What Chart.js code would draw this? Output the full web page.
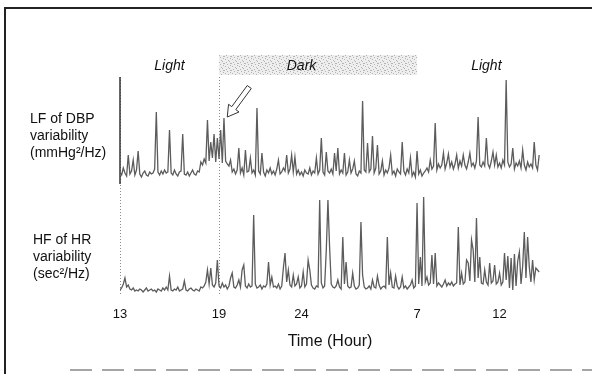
<!DOCTYPE html>
<html>
<head>
<meta charset="utf-8">
<script src="https://cdn.jsdelivr.net/npm/chart.js@4.4.1/dist/chart.umd.min.js"></script>
<style>
html, body { margin: 0; padding: 0; background: #fff; }
canvas { display: block; }
</style>
</head>
<body>
<canvas id="chart" width="592" height="374"></canvas>
<script>
// both traces are sampled every 0.1 h from 13:00
var startHour = 13;
var stepHour = 0.1;

// LF of DBP variability (arbitrary units)
var lfDbp = [
	20, 17, 24, 19, 16, 37, 18, 21, 32, 17,
	22, 41, 18, 15, 19, 21, 17, 16, 20, 18,
	19, 23, 80, 20, 17, 21, 18, 22, 19, 20,
	62, 19, 17, 22, 18, 16, 20, 21, 58, 18,
	17, 20, 16, 19, 22, 18, 17, 21, 20, 30,
	27, 33, 29, 72, 31, 50, 34, 58, 30, 54,
	33, 62, 29, 74, 31, 28, 26, 32, 20, 23,
	18, 22, 44, 19, 24, 17, 42, 20, 21, 34,
	19, 22, 17, 84, 21, 18, 39, 20, 16, 22,
	19, 24, 18, 21, 17, 23, 32, 18, 20, 24,
	21, 37, 19, 23, 37, 20, 35, 18, 22, 17,
	20, 16, 22, 19, 18, 24, 17, 21, 19, 34,
	18, 22, 54, 20, 17, 40, 21, 19, 23, 18,
	39, 21, 44, 18, 22, 19, 39, 17, 20, 32,
	19, 23, 31, 18, 16, 21, 19, 91, 22, 20,
	49, 20, 23, 56, 19, 24, 47, 18, 21, 31,
	17, 22, 19, 24, 37, 18, 21, 16, 23, 20,
	18, 50, 21, 17, 23, 19, 34, 16, 20, 15,
	41, 18, 22, 16, 19, 21, 24, 20, 32, 23,
	26, 69, 22, 28, 24, 27, 39, 23, 29, 38,
	25, 30, 23, 28, 37, 24, 31, 26, 37, 27,
	23, 30, 39, 26, 29, 24, 31, 75, 27, 25,
	30, 26, 54, 28, 24, 31, 40, 27, 37, 25,
	29, 24, 32, 27, 112, 30, 25, 28, 44, 23,
	29, 26, 31, 24, 42, 27, 22, 30, 25, 28,
	24, 50, 27, 22, 37
];

// HF of HR variability (arbitrary units)
var hfHr = [
	6, 8, 12, 18, 9, 11, 7, 6, 8, 5,
	6, 5, 7, 6, 4, 6, 8, 5, 6, 7,
	5, 6, 4, 7, 6, 5, 8, 6, 9, 6,
	20, 6, 5, 7, 6, 9, 5, 6, 7, 15,
	6, 5, 7, 8, 6, 5, 7, 6, 5, 9,
	8, 10, 14, 26, 12, 28, 11, 9, 13, 36,
	10, 8, 13, 9, 11, 7, 10, 18, 23, 9,
	8, 11, 16, 9, 26, 31, 10, 8, 12, 9,
	10, 81, 12, 8, 9, 11, 7, 10, 9, 12,
	34, 11, 19, 9, 10, 8, 12, 7, 10, 28,
	43, 14, 26, 11, 9, 21, 10, 12, 19, 8,
	10, 24, 9, 12, 36, 26, 11, 8, 7, 10,
	9, 96, 13, 8, 10, 46, 96, 49, 12, 9,
	8, 10, 16, 9, 7, 59, 12, 34, 10, 8,
	9, 23, 10, 7, 8, 11, 74, 21, 9, 7,
	8, 10, 7, 16, 9, 8, 20, 11, 7, 9,
	10, 8, 59, 11, 23, 9, 8, 20, 10, 7,
	9, 19, 8, 10, 7, 9, 11, 16, 8, 10,
	93, 12, 39, 10, 99, 14, 19, 11, 13, 41,
	12, 43, 10, 13, 11, 9, 12, 16, 10, 13,
	11, 14, 10, 12, 13, 69, 11, 23, 12, 14,
	36, 33, 15, 56, 46, 14, 78, 18, 39, 13,
	12, 26, 14, 11, 33, 13, 15, 31, 12, 14,
	23, 11, 14, 43, 16, 40, 8, 38, 6, 42,
	10, 35, 44, 12, 30, 64, 18, 59, 29, 14,
	36, 16, 28, 26, 24
];

var tickHours = [13, 19, 24, 31, 36];
var gridHours = [13, 19];
var darkPeriod = [19, 31];
var periodLabels = ['Light', 'Dark', 'Light'];
var periodLabelHours = [16, 24, 35.2];
var topTitle = ['LF of DBP', 'variability', '(mmHg²/Hz)'];
var bottomTitle = ['HF of HR', 'variability', '(sec²/Hz)'];
var arrowAt = { hour: 19.5, value: 75 };

function toPoints(values) {
	return values.map(function (v, i) {
		return { x: startHour + i * stepHour, y: v };
	});
}

var FONT = '"Liberation Sans", Arial, Helvetica, sans-serif';
Chart.defaults.font.family = FONT;
Chart.defaults.color = '#1a1a1a';

function stipple(ctx) {
	var p = document.createElement('canvas');
	p.width = 7;
	p.height = 7;
	var c = p.getContext('2d');
	c.fillStyle = '#eeeeee';
	c.fillRect(0, 0, 7, 7);
	c.fillStyle = '#b4b4b4';
	[[0, 0], [3, 1], [6, 2], [1, 3], [4, 4], [2, 6], [5, 5], [6, 0]].forEach(function (d) {
		c.fillRect(d[0], d[1], 1, 1);
	});
	return ctx.createPattern(p, 'repeat');
}

var decorations = {
	id: 'decorations',
	beforeDatasetsDraw: function (chart) {
		var ctx = chart.ctx;
		var x = chart.scales.x;
		var area = chart.chartArea;
		ctx.save();

		// page frame of the scanned figure
		ctx.strokeStyle = '#222';
		ctx.lineWidth = 2;
		ctx.beginPath();
		ctx.moveTo(5, 374);
		ctx.lineTo(5, 8);
		ctx.lineTo(592, 8);
		ctx.stroke();
		ctx.strokeStyle = '#888';
		ctx.lineWidth = 1.5;
		ctx.setLineDash([22, 10]);
		ctx.beginPath();
		ctx.moveTo(70, 370);
		ctx.lineTo(592, 370);
		ctx.stroke();
		ctx.setLineDash([]);

		// dark period bar
		var x0 = x.getPixelForValue(darkPeriod[0]);
		var x1 = x.getPixelForValue(darkPeriod[1]);
		ctx.fillStyle = stipple(ctx);
		ctx.fillRect(x0, 55, x1 - x0, 20);

		ctx.fillStyle = '#111';
		ctx.font = 'italic 14px ' + FONT;
		ctx.textAlign = 'center';
		ctx.textBaseline = 'middle';
		periodLabels.forEach(function (t, i) {
			ctx.fillText(t, x.getPixelForValue(periodLabelHours[i]), 66);
		});

		// panel titles
		ctx.font = '14px ' + FONT;
		ctx.textAlign = 'left';
		topTitle.forEach(function (t, i) {
			ctx.fillText(t, 30, 119 + i * 17);
		});
		bottomTitle.forEach(function (t, i) {
			ctx.fillText(t, 33, 240 + i * 17);
		});

		// solid axis line of the upper panel
		ctx.strokeStyle = '#333';
		ctx.lineWidth = 1.5;
		ctx.beginPath();
		ctx.moveTo(area.left, area.top);
		ctx.lineTo(area.left, chart.scales.yTop.getPixelForValue(8));
		ctx.stroke();
		ctx.restore();
	},
	afterDatasetsDraw: function (chart) {
		var ctx = chart.ctx;
		var tx = chart.scales.x.getPixelForValue(arrowAt.hour);
		var ty = chart.scales.yTop.getPixelForValue(arrowAt.value);
		// outlined arrow pointing down-left at the marked spike
		var dx = 22, dy = -30;
		var len = Math.sqrt(dx * dx + dy * dy);
		var ux = dx / len, uy = dy / len;
		var nx = -uy, ny = ux;
		var head = 11, hw = 6.5, sw = 2.5;
		var pts = [
			[0, 0],
			[ux * head + nx * hw, uy * head + ny * hw],
			[ux * head + nx * sw, uy * head + ny * sw],
			[ux * len + nx * sw, uy * len + ny * sw],
			[ux * len - nx * sw, uy * len - ny * sw],
			[ux * head - nx * sw, uy * head - ny * sw],
			[ux * head - nx * hw, uy * head - ny * hw]
		];
		ctx.save();
		ctx.beginPath();
		pts.forEach(function (p, i) {
			if (i === 0) ctx.moveTo(tx + p[0], ty + p[1]);
			else ctx.lineTo(tx + p[0], ty + p[1]);
		});
		ctx.closePath();
		ctx.fillStyle = '#fff';
		ctx.fill();
		ctx.strokeStyle = '#333';
		ctx.lineWidth = 1;
		ctx.stroke();
		ctx.restore();
	}
};

var chart = new Chart(document.getElementById('chart'), {
	type: 'line',
	data: {
		datasets: [{
			label: 'LF of DBP variability',
			data: toPoints(lfDbp),
			yAxisID: 'yTop',
			borderColor: '#5c5c5c',
			borderWidth: 1.3,
			pointRadius: 0,
			tension: 0
		}, {
			label: 'HF of HR variability',
			data: toPoints(hfHr),
			yAxisID: 'yBot',
			borderColor: '#5c5c5c',
			borderWidth: 1.3,
			pointRadius: 0,
			tension: 0
		}]
	},
	options: {
		responsive: false,
		animation: false,
		devicePixelRatio: 1,
		layout: {
			padding: { top: 77, left: 120, right: 52, bottom: 0 }
		},
		plugins: {
			legend: { display: false },
			tooltip: { enabled: false }
		},
		scales: {
			x: {
				type: 'linear',
				min: startHour,
				max: startHour + (lfDbp.length - 1) * stepHour + 0.05,
				afterBuildTicks: function (scale) {
					scale.ticks = tickHours.map(function (v) { return { value: v }; });
				},
				afterFit: function (scale) {
					scale.height = 78;
				},
				ticks: {
					padding: 11,
					font: { size: 13 },
					color: '#111',
					autoSkip: false,
					maxRotation: 0,
					callback: function (v) { return String(v > 24 ? v - 24 : v); }
				},
				grid: {
					drawTicks: false,
					lineWidth: 1,
					color: function (c) {
						return c.tick && gridHours.indexOf(c.tick.value) >= 0 ? '#8a8a8a' : 'rgba(0,0,0,0)';
					}
				},
				border: { display: false, dash: [1, 2] },
				title: {
					display: true,
					text: 'Time (Hour)',
					font: { size: 16 },
					color: '#111',
					padding: { top: 0, bottom: 23 }
				}
			},
			yTop: {
				type: 'linear',
				display: false,
				min: -104,
				max: 115
			},
			yBot: {
				type: 'linear',
				display: false,
				min: 0,
				max: 219
			}
		}
	},
	plugins: [decorations]
});
</script>
</body>
</html>
